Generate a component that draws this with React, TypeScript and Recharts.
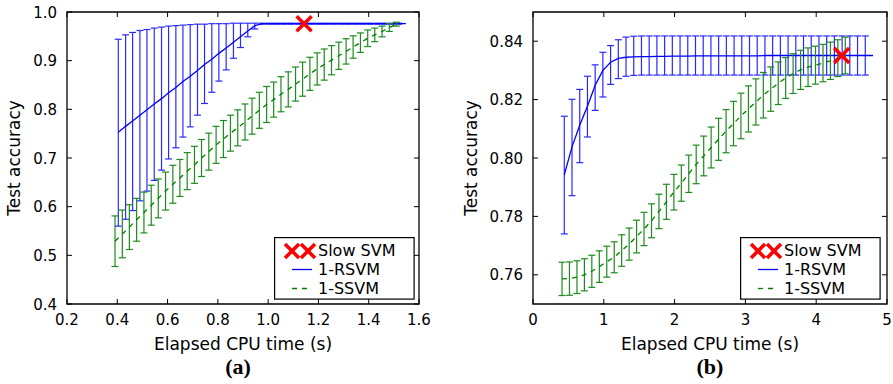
import React from 'react';
import { ComposedChart, Line, Scatter, XAxis, YAxis, ErrorBar, ReferenceArea } from 'recharts';

const FONT = '"DejaVu Sans", Verdana, sans-serif';

// ---- panel (a) ----
const xTicksA = [0.2, 0.4, 0.6, 0.8, 1.0, 1.2, 1.4, 1.6];
const yTicksA = [0.4, 0.5, 0.6, 0.7, 0.8, 0.9, 1.0];

const rsvmTimeA = [0.404, 0.433, 0.461, 0.490, 0.518, 0.547, 0.576, 0.604, 0.633, 0.661, 0.690, 0.719, 0.747, 0.776, 0.804, 0.833, 0.862, 0.890, 0.919, 0.947, 0.976, 1.005, 1.033, 1.062, 1.090, 1.119, 1.148, 1.176, 1.205, 1.233, 1.262, 1.291, 1.319, 1.348, 1.376, 1.405, 1.434, 1.462, 1.491, 1.519, 1.548];
const rsvmMeanA = [0.753, 0.765, 0.776, 0.788, 0.799, 0.811, 0.822, 0.834, 0.845, 0.857, 0.868, 0.880, 0.892, 0.903, 0.915, 0.926, 0.938, 0.949, 0.961, 0.972, 0.976, 0.976, 0.976, 0.976, 0.976, 0.976, 0.976, 0.976, 0.976, 0.976, 0.976, 0.976, 0.976, 0.976, 0.976, 0.976, 0.976, 0.976, 0.976, 0.976, 0.976];
const rsvmHighA = [0.944, 0.953, 0.958, 0.962, 0.964, 0.967, 0.969, 0.971, 0.972, 0.973, 0.974, 0.975, 0.975, 0.976, 0.976, 0.976, 0.977, 0.977, 0.977, 0.977, 0.977, 0.977, 0.977, 0.977, 0.977, 0.977, 0.977, 0.977, 0.977, 0.977, 0.977, 0.977, 0.977, 0.977, 0.977, 0.977, 0.977, 0.977, 0.977, 0.977];
const rsvmLowA = [0.560, 0.574, 0.592, 0.612, 0.632, 0.654, 0.675, 0.698, 0.721, 0.743, 0.764, 0.788, 0.812, 0.835, 0.858, 0.881, 0.905, 0.927, 0.949, 0.965, 0.975, 0.975, 0.975, 0.975, 0.975, 0.975, 0.975, 0.975, 0.975, 0.975, 0.975, 0.975, 0.975, 0.975, 0.975, 0.975, 0.975, 0.975, 0.975, 0.975];

const ssvmTimeA = [0.391, 0.420, 0.448, 0.477, 0.506, 0.535, 0.563, 0.592, 0.621, 0.649, 0.678, 0.707, 0.735, 0.764, 0.793, 0.822, 0.850, 0.879, 0.908, 0.936, 0.965, 0.994, 1.022, 1.051, 1.080, 1.109, 1.137, 1.166, 1.195, 1.223, 1.252, 1.281, 1.310, 1.338, 1.367, 1.396, 1.424, 1.453, 1.482, 1.510];
const ssvmMeanA = [0.529, 0.544, 0.558, 0.573, 0.588, 0.603, 0.617, 0.632, 0.646, 0.659, 0.673, 0.686, 0.700, 0.713, 0.727, 0.739, 0.751, 0.762, 0.774, 0.786, 0.798, 0.810, 0.820, 0.831, 0.841, 0.852, 0.862, 0.873, 0.883, 0.892, 0.901, 0.910, 0.919, 0.928, 0.937, 0.946, 0.953, 0.960, 0.968, 0.975];
const ssvmSpreadA = [0.052, 0.049, 0.046, 0.044, 0.042, 0.041, 0.040, 0.039, 0.039, 0.038, 0.038, 0.038, 0.038, 0.038, 0.038, 0.038, 0.037, 0.037, 0.037, 0.037, 0.037, 0.037, 0.036, 0.036, 0.036, 0.035, 0.035, 0.034, 0.033, 0.032, 0.030, 0.028, 0.026, 0.023, 0.020, 0.017, 0.014, 0.011, 0.008, 0.004];

const slowA = [{ x: 1.143, y: 0.976 }];

// ---- panel (b) ----
const xTicksB = [0, 1, 2, 3, 4, 5];
const yTicksB = [0.76, 0.78, 0.8, 0.82, 0.84];

const rsvmTimeB = [0.442, 0.551, 0.660, 0.769, 0.878, 0.987, 1.096, 1.205, 1.314, 1.423, 1.532, 1.641, 1.750, 1.859, 1.968, 2.077, 2.186, 2.295, 2.404, 2.513, 2.622, 2.731, 2.840, 2.949, 3.058, 3.167, 3.276, 3.385, 3.494, 3.603, 3.712, 3.821, 3.930, 4.039, 4.148, 4.257, 4.366, 4.475, 4.584, 4.693, 4.802];
const rsvmMeanB = [0.7942, 0.8038, 0.8112, 0.8177, 0.8249, 0.8300, 0.8328, 0.8341, 0.8345, 0.8346, 0.8347, 0.8347, 0.8348, 0.8348, 0.8349, 0.8349, 0.8349, 0.8350, 0.8350, 0.8350, 0.8350, 0.8350, 0.8350, 0.8350, 0.8350, 0.8350, 0.8351, 0.8351, 0.8351, 0.8351, 0.8351, 0.8351, 0.8351, 0.8351, 0.8351, 0.8351, 0.8351, 0.8351, 0.8351, 0.8351, 0.8351];
const rsvmHighB = [0.8143, 0.8201, 0.8235, 0.8280, 0.8319, 0.8362, 0.8385, 0.8405, 0.8414, 0.8417, 0.8418, 0.8418, 0.8418, 0.8418, 0.8418, 0.8418, 0.8418, 0.8418, 0.8418, 0.8418, 0.8418, 0.8418, 0.8418, 0.8418, 0.8418, 0.8418, 0.8418, 0.8418, 0.8418, 0.8418, 0.8418, 0.8418, 0.8418, 0.8418, 0.8418, 0.8418, 0.8418, 0.8418, 0.8418, 0.8418];
const rsvmLowB = [0.7740, 0.7871, 0.7984, 0.8072, 0.8163, 0.8209, 0.8252, 0.8272, 0.8280, 0.8283, 0.8284, 0.8284, 0.8284, 0.8284, 0.8284, 0.8284, 0.8284, 0.8284, 0.8284, 0.8284, 0.8284, 0.8284, 0.8284, 0.8284, 0.8284, 0.8284, 0.8284, 0.8284, 0.8284, 0.8284, 0.8284, 0.8284, 0.8284, 0.8284, 0.8284, 0.8284, 0.8284, 0.8284, 0.8284, 0.8284];

const ssvmTimeB = [0.410, 0.515, 0.621, 0.726, 0.831, 0.937, 1.042, 1.147, 1.252, 1.358, 1.463, 1.568, 1.674, 1.779, 1.884, 1.990, 2.095, 2.200, 2.305, 2.411, 2.516, 2.621, 2.727, 2.832, 2.937, 3.043, 3.148, 3.253, 3.358, 3.464, 3.569, 3.674, 3.780, 3.885, 3.990, 4.096, 4.201, 4.306, 4.411];
const ssvmMeanB = [0.7586, 0.7587, 0.7592, 0.7600, 0.7612, 0.7628, 0.7645, 0.7660, 0.7683, 0.7705, 0.7731, 0.7757, 0.7785, 0.7817, 0.7850, 0.7883, 0.7914, 0.7946, 0.7978, 0.8007, 0.8036, 0.8064, 0.8092, 0.8118, 0.8144, 0.8168, 0.8192, 0.8215, 0.8236, 0.8256, 0.8274, 0.8289, 0.8302, 0.8311, 0.8318, 0.8325, 0.8333, 0.8342, 0.8351];
const ssvmSpreadB = [0.0057, 0.0057, 0.0056, 0.0055, 0.0055, 0.0054, 0.0053, 0.0053, 0.0054, 0.0055, 0.0056, 0.0057, 0.0058, 0.0059, 0.0060, 0.0061, 0.0062, 0.0064, 0.0066, 0.0068, 0.0070, 0.0072, 0.0074, 0.0076, 0.0078, 0.0079, 0.0079, 0.0078, 0.0076, 0.0073, 0.0070, 0.0068, 0.0067, 0.0066, 0.0065, 0.0064, 0.0064, 0.0063, 0.0063];

const slowB = [{ x: 4.36, y: 0.8351 }];

const BLUE = '#0000ff';
const BLUE_ERR = '#2a2aff';
const GREEN = '#008000';
const GREEN_ERR = '#1c8c1c';
const RED = '#ff0000';

// rows with asymmetric error [below, above]; points past the end of the bounds get no bar
const withBounds = (xs: number[], mean: number[], low: number[], high: number[]) =>
  xs.map((x, i) => ({
    x,
    y: mean[i],
    err: i < low.length ? [mean[i] - low[i], high[i] - mean[i]] : undefined,
  }));

const withSpread = (xs: number[], mean: number[], sd: number[]) =>
  xs.map((x, i) => ({ x, y: mean[i], err: sd[i] }));

const rsvmA = withBounds(rsvmTimeA, rsvmMeanA, rsvmLowA, rsvmHighA);
const ssvmA = withSpread(ssvmTimeA, ssvmMeanA, ssvmSpreadA);
const rsvmB = withBounds(rsvmTimeB, rsvmMeanB, rsvmLowB, rsvmHighB);
const ssvmB = withSpread(ssvmTimeB, ssvmMeanB, ssvmSpreadB);

const CrossMark = (props: any) => {
  const { cx, cy } = props;
  const r = 7.5;
  return (
    <g stroke={RED} strokeWidth={3.5} strokeLinecap="butt">
      <line x1={cx - r} y1={cy - r} x2={cx + r} y2={cy + r} />
      <line x1={cx - r} y1={cy + r} x2={cx + r} y2={cy - r} />
    </g>
  );
};

// ticks point inward on both sides, labels outside
const makeXTick = (plotH: number, fmt: (v: number) => string) => (props: any) => {
  const { x, y, payload } = props;
  return (
    <g>
      <line x1={x} x2={x} y1={y} y2={y - 5} stroke="#000" />
      <line x1={x} x2={x} y1={y - plotH} y2={y - plotH + 5} stroke="#000" />
      <text x={x} y={y + 21} textAnchor="middle" fontSize={15} fontFamily={FONT} fill="#000">
        {fmt(payload.value)}
      </text>
    </g>
  );
};

const makeYTick = (plotW: number, fmt: (v: number) => string) => (props: any) => {
  const { x, y, payload } = props;
  return (
    <g>
      <line x1={x} x2={x + 5} y1={y} y2={y} stroke="#000" />
      <line x1={x + plotW} x2={x + plotW - 5} y1={y} y2={y} stroke="#000" />
      <text x={x - 10} y={y + 5.5} textAnchor="end" fontSize={15} fontFamily={FONT} fill="#000">
        {fmt(payload.value)}
      </text>
    </g>
  );
};

const LegendBox = ({ left, top }: { left: number; top: number }) => (
  <svg width={141} height={63} style={{ position: 'absolute', left, top }}>
    <rect x={0.6} y={0.6} width={139.5} height={61.5} fill="#fff" stroke="#000" strokeWidth={1.2} />
    <g stroke={RED} strokeWidth={3.5}>
      <line x1={11} y1={7} x2={25} y2={21} />
      <line x1={11} y1={21} x2={25} y2={7} />
      <line x1={27} y1={7} x2={41} y2={21} />
      <line x1={27} y1={21} x2={41} y2={7} />
    </g>
    <line x1={18} x2={38} y1={32.5} y2={32.5} stroke={BLUE} strokeWidth={1.3} />
    <line x1={18} x2={38} y1={51.5} y2={51.5} stroke={GREEN} strokeWidth={1.3} strokeDasharray="5 5" />
    <g fontFamily={FONT} fontSize={16} fill="#000">
      <text x={44} y={19}>Slow SVM</text>
      <text x={44} y={38}>1-RSVM</text>
      <text x={44} y={57}>1-SSVM</text>
    </g>
  </svg>
);

export default function App() {
  return (
    <div style={{ position: 'absolute', left: 0, top: 0, width: 893, height: 384, background: '#fff' }}>
      <div style={{ position: 'absolute', left: 0, top: 0 }}>
        <ComposedChart width={440} height={384} margin={{ top: 12, right: 21, bottom: 0, left: 0 }}>
          <XAxis
            type="number"
            dataKey="x"
            domain={[0.2, 1.6]}
            ticks={xTicksA}
            height={80}
            axisLine={false}
            tickLine={false}
            tickSize={0}
            tickMargin={0}
            interval={0}
            allowDataOverflow
            tick={makeXTick(292, (v) => v.toFixed(1))}
          />
          <YAxis
            type="number"
            domain={[0.4, 1.0]}
            ticks={yTicksA}
            width={67}
            axisLine={false}
            tickLine={false}
            tickSize={0}
            tickMargin={0}
            interval={0}
            allowDataOverflow
            tick={makeYTick(352, (v) => v.toFixed(1))}
          />
          <Line data={rsvmA} dataKey="y" stroke={BLUE} strokeWidth={1.3} dot={false} isAnimationActive={false}>
            <ErrorBar dataKey="err" width={3.5} stroke={BLUE_ERR} strokeWidth={1.2} direction="y" />
          </Line>
          <Line data={ssvmA} dataKey="y" stroke={GREEN} strokeWidth={1.3} strokeDasharray="5 5" dot={false} isAnimationActive={false}>
            <ErrorBar dataKey="err" width={3.5} stroke={GREEN_ERR} strokeWidth={1.2} direction="y" />
          </Line>
          <Scatter data={slowA} dataKey="y" shape={CrossMark} isAnimationActive={false} />
          <ReferenceArea x1={0.2} x2={1.6} y1={0.4} y2={1.0} fill="none" stroke="#000" strokeWidth={1.3} ifOverflow="visible" />
        </ComposedChart>
      </div>

      <div style={{ position: 'absolute', left: 446, top: 0 }}>
        <ComposedChart width={447} height={384} margin={{ top: 12, right: 6, bottom: 0, left: 0 }}>
          <XAxis
            type="number"
            dataKey="x"
            domain={[0, 5]}
            ticks={xTicksB}
            height={80}
            axisLine={false}
            tickLine={false}
            tickSize={0}
            tickMargin={0}
            interval={0}
            allowDataOverflow
            tick={makeXTick(292, (v) => String(v))}
          />
          <YAxis
            type="number"
            domain={[0.75, 0.85]}
            ticks={yTicksB}
            width={87}
            axisLine={false}
            tickLine={false}
            tickSize={0}
            tickMargin={0}
            interval={0}
            allowDataOverflow
            tick={makeYTick(354, (v) => v.toFixed(2))}
          />
          <Line data={rsvmB} dataKey="y" stroke={BLUE} strokeWidth={1.3} dot={false} isAnimationActive={false}>
            <ErrorBar dataKey="err" width={3.5} stroke={BLUE_ERR} strokeWidth={1.2} direction="y" />
          </Line>
          <Line data={ssvmB} dataKey="y" stroke={GREEN} strokeWidth={1.3} strokeDasharray="5 5" dot={false} isAnimationActive={false}>
            <ErrorBar dataKey="err" width={3.5} stroke={GREEN_ERR} strokeWidth={1.2} direction="y" />
          </Line>
          <Scatter data={slowB} dataKey="y" shape={CrossMark} isAnimationActive={false} />
          <ReferenceArea x1={0} x2={5} y1={0.75} y2={0.85} fill="none" stroke="#000" strokeWidth={1.3} ifOverflow="visible" />
        </ComposedChart>
      </div>

      <LegendBox left={274} top={237} />
      <LegendBox left={740} top={237} />

      <svg width={893} height={384} style={{ position: 'absolute', left: 0, top: 0, pointerEvents: 'none' }}>
        <g fontFamily={FONT} fontSize={17} fill="#000" textAnchor="middle">
          <text transform="translate(20,158) rotate(-90)">Test accuracy</text>
          <text transform="translate(477,158) rotate(-90)">Test accuracy</text>
          <text x={243} y={350}>Elapsed CPU time (s)</text>
          <text x={710} y={350}>Elapsed CPU time (s)</text>
        </g>
        <g fontFamily='"Liberation Serif", "Times New Roman", serif' fontWeight="bold" fontSize={22} fill="#000" textAnchor="middle">
          <text x={238} y={374}>(a)</text>
          <text x={710} y={374}>(b)</text>
        </g>
      </svg>
    </div>
  );
}
